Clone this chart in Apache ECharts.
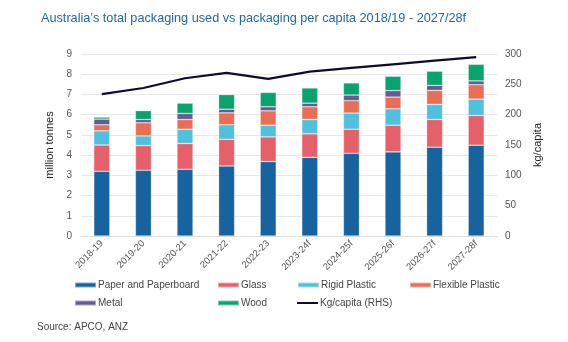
<!DOCTYPE html>
<html><head><meta charset="utf-8">
<script src="https://cdn.jsdelivr.net/npm/echarts@6/dist/echarts.min.js"></script>
<style>html,body{margin:0;padding:0;background:#fff}#c{width:568px;height:342px}</style>
</head><body><div id="c"></div>
<script>
const categories = ['2018-19','2019-20','2020-21','2021-22','2022-23','2023-24f','2024-25f','2025-26f','2026-27f','2027-28f'];
const paper    = [3.20, 3.25, 3.30, 3.46, 3.68, 3.89, 4.09, 4.16, 4.39, 4.49];
const glass    = [1.30, 1.22, 1.27, 1.32, 1.22, 1.16, 1.19, 1.32, 1.37, 1.47];
const rigid    = [0.70, 0.48, 0.71, 0.72, 0.58, 0.71, 0.80, 0.81, 0.75, 0.81];
const flexible = [0.30, 0.65, 0.48, 0.59, 0.71, 0.63, 0.61, 0.58, 0.69, 0.71];
const metal    = [0.28, 0.16, 0.30, 0.18, 0.20, 0.18, 0.28, 0.32, 0.25, 0.19];
const wood     = [0.10, 0.44, 0.51, 0.72, 0.71, 0.75, 0.60, 0.71, 0.70, 0.82];
const kgPerCapita = [234, 244, 260, 269, 259, 271, 277, 283, 289, 295];
const leftTicks = [0,1,2,3,4,5,6,7,8,9];
const rightTicks = [0,50,100,150,200,250,300];

const names = ['Paper and Paperboard','Glass','Rigid Plastic','Flexible Plastic','Metal','Wood','Kg/capita (RHS)'];
const colors = ['#17639f','#e5606a','#4fc1dc','#e86f55','#655a97','#09a36e','#0c0c2c'];
const barData = [paper, glass, rigid, flexible, metal, wood];

const series = barData.map((d,i)=>({
  name: names[i], type:'bar', stack:'total', data:d, barWidth:16,
  itemStyle:{color:colors[i], borderColor:'rgba(255,255,255,0.45)', borderWidth:0.6},
  yAxisIndex:0
}));
series.push({
  name: names[6], type:'line', data:kgPerCapita, yAxisIndex:1,
  symbol:'none', lineStyle:{color:colors[6], width:2.2}, itemStyle:{color:colors[6]}
});

const legendPos = [[74,280],[217,280],[297,280],[409,280],[74,298],[217,298],[297,298]];
const legends = names.map((n,i)=>({
  data:[n], left:legendPos[i][0], top:legendPos[i][1], padding:0,
  icon:'rect', itemWidth:21, itemHeight: i===6 ? 2 : 5, itemGap:2,
  textStyle:{fontFamily:'Liberation Sans, Arial', fontSize:10, color:'#444', padding:[0,0,0,-3]},
  selectedMode:false
}));

const chart = echarts.init(document.getElementById('c'), null, {renderer:'canvas'});
chart.setOption({
  animation:false,
  title:[{text:'Australia\u2019s total packaging used vs packaging per capita 2018/19 - 2027/28f', left:36, top:7,
    textStyle:{fontFamily:'Liberation Sans, Arial', fontSize:12.7, fontWeight:'normal', color:'#1d67a8'}},
    {text:'Source: APCO, ANZ', left:37, top:322, padding:0, textStyle:{fontFamily:'Liberation Sans, Arial', fontSize:10, fontWeight:'normal', color:'#444'}}],
  legend: legends,
  grid:{left:81, right:71, top:54, bottom:106},
  xAxis:{type:'category', data:categories,
    axisLine:{lineStyle:{color:'#ddd'}}, axisTick:{show:false},
    axisLabel:{rotate:45, fontFamily:'Liberation Sans, Arial', fontSize:9.5, color:'#555', margin:6, interval:0}},
  yAxis:[
    {type:'value', min:0, max:9, interval:1, name:'million tonnes', nameLocation:'middle', nameGap:21,
     nameTextStyle:{fontFamily:'Liberation Sans, Arial', fontSize:11, color:'#222'},
     axisLabel:{fontFamily:'Liberation Sans, Arial', fontSize:10, color:'#555', margin:9},
     splitLine:{lineStyle:{color:'#e8e8e8'}}, axisLine:{show:false}, axisTick:{show:false}},
    {type:'value', min:0, max:300, interval:50, name:'kg/capita', nameLocation:'middle', nameGap:28, nameRotate:90,
     nameTextStyle:{fontFamily:'Liberation Sans, Arial', fontSize:11, color:'#222'},
     axisLabel:{fontFamily:'Liberation Sans, Arial', fontSize:10, color:'#555', margin:8},
     splitLine:{show:false}, axisLine:{show:false}, axisTick:{show:false}}
  ],
  series: series
});
</script></body></html>
